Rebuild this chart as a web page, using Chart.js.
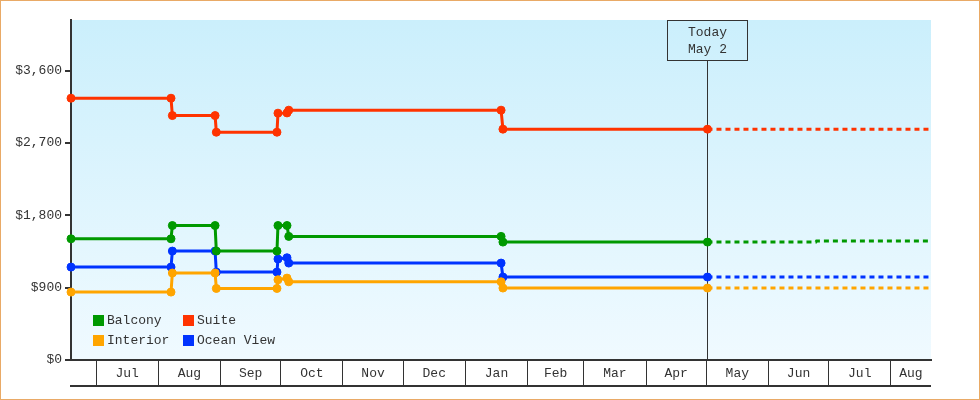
<!DOCTYPE html>
<html>
<head>
<meta charset="utf-8">
<script src="https://cdn.jsdelivr.net/npm/chart.js@4.4.0/dist/chart.umd.min.js"></script>
<style>
  html, body { margin: 0; padding: 0; background: #fff; }
  #wrap { width: 980px; height: 400px; box-sizing: border-box; border: 1px solid #e9aa66; }
  canvas { display: block; }
</style>
</head>
<body>
<div id="wrap"><canvas id="priceChart" width="978" height="398"></canvas></div>
<script>
// observed prices, one point per observation
const obsDates = ['2022-06-18T12:00', '2022-08-07T08:00', '2022-08-08T00:00', '2022-08-29T07:00', '2022-08-29T22:00',
  '2022-09-29T03:00', '2022-09-29T15:00', '2022-10-04T03:00', '2022-10-05T00:00', '2023-01-18T19:00',
  '2023-01-19T17:00', '2023-05-01T15:00'];
const balcony   = [1508, 1508, 1673, 1673, 1355, 1355, 1673, 1673, 1538, 1538, 1467, 1467];
const interior  = [845, 845, 1082, 1082, 890, 890, 998, 1019, 973, 973, 895, 895];
const oceanView = [1156, 1156, 1355, 1355, 1094, 1094, 1256, 1272, 1206, 1206, 1032, 1032];
const suite     = [3257, 3257, 3041, 3041, 2834, 2834, 3071, 3074, 3108, 3108, 2872, 2872];

// after today (dotted)
const futureDates = ['2023-05-01T15:00', '2023-06-24T16:00', '2023-06-25T00:00', '2023-08-21T00:00'];
const balconyFuture   = [1467, 1467, 1480, 1480];
const interiorFuture  = [895, 895, 895, 895];
const oceanViewFuture = [1032, 1032, 1032, 1032];
const suiteFuture     = [2872, 2872, 2872, 2872];

const todayDate = '2023-05-01T15:00';
const todayText = ['Today', 'May 2'];

const xStart = '2022-06-18T12:00';
const xEnd = '2023-08-21T00:00';
const monthStarts = ['2022-07-01', '2022-08-01', '2022-09-01', '2022-10-01', '2022-11-01', '2022-12-01', '2023-01-01',
  '2023-02-01', '2023-03-01', '2023-04-01', '2023-05-01', '2023-06-01', '2023-07-01', '2023-08-01'];
const monthLabels = ['Jul', 'Aug', 'Sep', 'Oct', 'Nov', 'Dec', 'Jan', 'Feb', 'Mar', 'Apr', 'May', 'Jun', 'Jul', 'Aug'];

const yTicks = [0, 900, 1800, 2700, 3600];
const yMax = 4230;

const seriesNames = ['Balcony', 'Interior', 'Suite', 'Ocean View'];
const seriesColors = ['#009900', '#ffa500', '#ff3300', '#0033ff'];

function toDay(s) {
  return Date.parse(s + (s.length === 10 ? 'T00:00' : '') + 'Z') / 86400000;
}
function pts(dates, vals) {
  return dates.map((d, i) => ({ x: toDay(d), y: vals[i] }));
}

const histVals = [balcony, interior, suite, oceanView];
const futVals = [balconyFuture, interiorFuture, suiteFuture, oceanViewFuture];

const datasets = [];
seriesNames.forEach((name, i) => {
  datasets.push({
    label: name, data: pts(obsDates, histVals[i]),
    borderColor: seriesColors[i], backgroundColor: seriesColors[i],
    borderWidth: 3, pointRadius: 4, pointBorderWidth: 1, tension: 0, clip: false
  });
});
seriesNames.forEach((name, i) => {
  datasets.push({
    label: name + ' (future)', data: pts(futureDates, futVals[i]),
    borderColor: seriesColors[i], backgroundColor: seriesColors[i],
    borderWidth: 3, borderDash: [5, 4], pointRadius: 0, tension: 0, clip: false
  });
});

const monthDays = monthStarts.map(toDay);
const FONT = "'Liberation Mono', monospace";

// chart background + frame bits
const decor = {
  id: 'decor',
  beforeDraw(chart) {
    const { ctx, chartArea: a } = chart;
    const g = ctx.createLinearGradient(0, a.top, 0, a.bottom);
    g.addColorStop(0, '#cbeffc');
    g.addColorStop(1, '#f0faff');
    ctx.save();
    ctx.fillStyle = g;
    ctx.fillRect(a.left, a.top, a.right - a.left, a.bottom - a.top);
    ctx.restore();
  },
  beforeDatasetsDraw(chart) {
    const { ctx, chartArea: a, scales } = chart;
    const x = Math.round(scales.x.getPixelForValue(toDay(todayDate))) + 0.5;
    ctx.save();
    ctx.strokeStyle = '#333';
    ctx.lineWidth = 1;
    ctx.beginPath();
    ctx.moveTo(x, a.top + 40);
    ctx.lineTo(x, a.bottom);
    ctx.stroke();
    ctx.strokeRect(x - 40, a.top + 0.5, 80, 40);
    ctx.fillStyle = '#333';
    ctx.font = '13px ' + FONT;
    ctx.textAlign = 'center';
    ctx.textBaseline = 'middle';
    ctx.fillText(todayText[0], x, a.top + 13);
    ctx.fillText(todayText[1], x, a.top + 30);
    ctx.restore();
  },
  afterDraw(chart) {
    const { ctx, chartArea: a, scales } = chart;
    const sx = scales.x;
    ctx.save();
    // bottom rule of the month strip
    ctx.fillStyle = '#333';
    ctx.fillRect(a.left - 1, a.bottom + 25, a.right - a.left + 1, 2);
    // month names centred in their cells
    ctx.font = '13px ' + FONT;
    ctx.textAlign = 'center';
    ctx.textBaseline = 'middle';
    monthDays.forEach((d, i) => {
      const next = i + 1 < monthDays.length ? monthDays[i + 1] : sx.max;
      const cx = (sx.getPixelForValue(d) + sx.getPixelForValue(next)) / 2;
      ctx.fillText(monthLabels[i], cx, a.bottom + 14);
    });
    // legend, two columns
    seriesNames.forEach((name, i) => {
      const bx = a.left + 22 + Math.floor(i / 2) * 90;
      const by = a.bottom - 45 + (i % 2) * 20;
      ctx.fillStyle = seriesColors[i];
      ctx.fillRect(bx, by, 11, 11);
      ctx.fillStyle = '#333';
      ctx.textAlign = 'left';
      ctx.fillText(name, bx + 14, by + 6);
    });
    ctx.restore();
  }
};

new Chart(document.getElementById('priceChart'), {
  type: 'line',
  data: { datasets: datasets },
  options: {
    responsive: false,
    animation: false,
    devicePixelRatio: 1,
    layout: { padding: { top: 19, right: 48, left: 0, bottom: 0 } },
    plugins: { legend: { display: false }, tooltip: { enabled: false } },
    scales: {
      x: {
        type: 'linear',
        min: toDay(xStart),
        max: toDay(xEnd),
        afterBuildTicks: s => { s.ticks = monthDays.map(v => ({ value: v })); },
        afterFit: s => { s.height = 39; },
        grid: { drawOnChartArea: false, drawTicks: true, tickLength: 25, color: '#333', lineWidth: 1 },
        border: { display: true, color: '#333', width: 2 },
        ticks: { display: false }
      },
      y: {
        min: 0,
        max: yMax,
        afterBuildTicks: s => { s.ticks = yTicks.map(v => ({ value: v })); },
        afterFit: s => { s.width = 70; },
        grid: { drawOnChartArea: false, tickLength: 6, lineWidth: 2, color: '#333' },
        border: { display: true, color: '#333', width: 2 },
        ticks: {
          padding: 3, color: '#333', font: { family: FONT, size: 13 },
          callback: v => '$' + v.toLocaleString('en-US')
        }
      }
    }
  },
  plugins: [decor]
});
</script>
</body>
</html>
